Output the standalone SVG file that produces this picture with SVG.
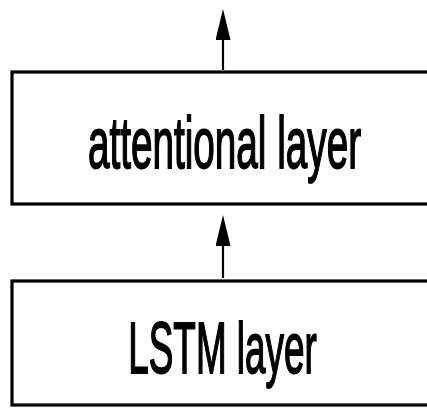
<svg xmlns="http://www.w3.org/2000/svg" width="427" height="409" viewBox="0 0 427 409">
<style>
.box{fill:#fff;stroke:#000;stroke-width:3.2}
.lbl{font-family:"Liberation Sans",Arial,sans-serif;font-size:73px;fill:#000;stroke:#000;stroke-width:1.8;text-anchor:middle}
.conn{stroke:#000;stroke-width:2.2;fill:none}
</style>
<defs>
<marker id="ah" markerUnits="userSpaceOnUse" markerWidth="32" markerHeight="16" refX="1" refY="7.5" orient="auto">
<path d="M0,0 L31,7.5 L0,15 z" fill="#000"/>
</marker>
</defs>
<rect width="427" height="409" fill="#fff"/>
<g id="attentional">
<rect class="box" x="12" y="72" width="425" height="132"/>
<text class="lbl" transform="translate(224.5,168) scale(0.53,1)" x="0" y="0">attentional layer</text>
</g>
<g id="lstm">
<rect class="box" x="12" y="281" width="425" height="124"/>
<text class="lbl" transform="translate(222.5,373) scale(0.505,1)" x="0" y="0">LSTM layer</text>
</g>
<g id="connectors">
<line class="conn" x1="223" y1="70" x2="223" y2="39" marker-end="url(#ah)"/>
<line class="conn" x1="223" y1="278" x2="223" y2="245" marker-end="url(#ah)"/>
</g>
</svg>
